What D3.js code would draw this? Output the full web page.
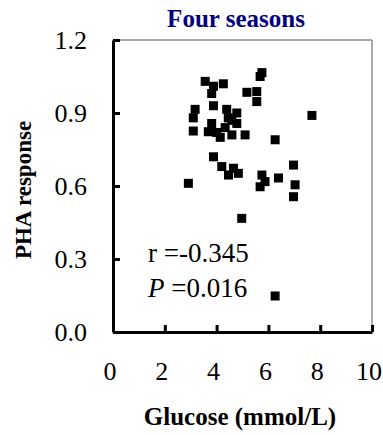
<!DOCTYPE html>
<html>
<head>
<meta charset="utf-8">
<script src="https://cdn.jsdelivr.net/npm/d3@7"></script>
<style>
  body { margin: 0; background: #fff; }
  svg text { font-family: "Liberation Serif", "Times New Roman", serif; }
</style>
</head>
<body>
<svg id="chart" width="383" height="435"></svg>
<script>
// glucose (mmol/L) vs PHA response
const glucose = [3.56, 3.88, 4.26, 3.81, 5.17, 5.55, 5.55, 5.75, 5.68, 3.88,
  3.17, 3.10, 4.39, 4.78, 3.10, 3.81, 3.68, 4.14, 4.33, 4.78,
  4.59, 5.10, 4.59, 7.68, 6.26, 3.88, 4.20, 4.65, 4.84, 4.46,
  2.91, 5.75, 5.87, 5.68, 6.39, 7.03, 6.97, 6.97, 4.97, 6.26,
  4.00, 4.45];
const pha = [1.03, 1.01, 1.02, 0.98, 0.985, 0.988, 0.947, 1.066, 1.05, 0.93,
  0.915, 0.88, 0.915, 0.90, 0.826, 0.857, 0.823, 0.80, 0.84, 0.857,
  0.81, 0.81, 0.87, 0.89, 0.79, 0.72, 0.68, 0.673, 0.652, 0.645,
  0.611, 0.645, 0.618, 0.597, 0.633, 0.605, 0.686, 0.556, 0.467, 0.148,
  0.82, 0.88];
const xTicks = [0, 2, 4, 6, 8, 10];
const yTicks = [0, 0.3, 0.6, 0.9, 1.2];
const title = "Four seasons";
const xLabel = "Glucose (mmol/L)";
const yLabel = "PHA response";
const stats = ["r =-0.345", "0.016"];

const data = glucose.map((g, i) => ({ x: g, y: pha[i] }));

const margin = { top: 40, right: 11, bottom: 103, left: 113 };
const width = 383 - margin.left - margin.right;
const height = 435 - margin.top - margin.bottom;

const svg = d3.select("#chart");
const g = svg.append("g")
  .attr("transform", `translate(${margin.left},${margin.top})`);

const x = d3.scaleLinear().domain([0, 10]).range([0, width]);
const y = d3.scaleLinear().domain([0, 1.2]).range([height, 0]);

// top and right frame lines
g.append("line")
  .attr("x1", 0).attr("x2", width).attr("y1", 0).attr("y2", 0)
  .attr("stroke", "#8c8c8c").attr("stroke-width", 1.5);
g.append("line")
  .attr("x1", width).attr("x2", width).attr("y1", 0).attr("y2", height)
  .attr("stroke", "#8c8c8c").attr("stroke-width", 1.5);

const yAxis = g.append("g")
  .call(d3.axisLeft(y).tickValues(yTicks).tickFormat(d3.format(".1f"))
    .tickSizeInner(-7).tickSizeOuter(0).tickPadding(26));

const xAxis = g.append("g")
  .attr("transform", `translate(0,${height})`)
  .call(d3.axisBottom(x).tickValues(xTicks)
    .tickSizeInner(-7).tickSizeOuter(0).tickPadding(30));

[xAxis, yAxis].forEach(ax => {
  ax.select(".domain").attr("stroke", "#000").attr("stroke-width", 3);
  ax.selectAll(".tick line").attr("stroke", "#000").attr("stroke-width", 3);
  ax.selectAll(".tick text")
    .attr("fill", "#000")
    .style("font-family", "'Liberation Serif', serif")
    .style("font-size", "26px");
});
// x labels sit a little left of their ticks in the original
xAxis.selectAll(".tick text").attr("dx", -3.5);

// markers
const sz = 9;
g.selectAll(".pt")
  .data(data)
  .enter()
  .append("rect")
  .attr("class", "pt")
  .attr("x", d => x(d.x) - sz / 2)
  .attr("y", d => y(d.y) - sz / 2)
  .attr("width", sz)
  .attr("height", sz)
  .attr("fill", "#000");

// stats annotation
g.append("text")
  .attr("x", 35).attr("y", 222)
  .style("font-size", "27px")
  .text(stats[0]);
const pText = g.append("text")
  .attr("x", 35).attr("y", 257)
  .style("font-size", "27px");
pText.append("tspan").style("font-style", "italic").text("P");
pText.append("tspan").text(" =" + stats[1]);

// title
svg.append("text")
  .attr("x", 236).attr("y", 27)
  .attr("text-anchor", "middle")
  .attr("fill", "#000080")
  .style("font-weight", "bold")
  .style("font-size", "25px")
  .text(title);

// axis titles
svg.append("text")
  .attr("x", 240).attr("y", 425)
  .attr("text-anchor", "middle")
  .style("font-weight", "bold")
  .style("font-size", "25px")
  .text(xLabel);

svg.append("text")
  .attr("transform", "translate(31,190) rotate(-90)")
  .attr("text-anchor", "middle")
  .style("font-weight", "bold")
  .style("font-size", "23px")
  .text(yLabel);
</script>
</body>
</html>
